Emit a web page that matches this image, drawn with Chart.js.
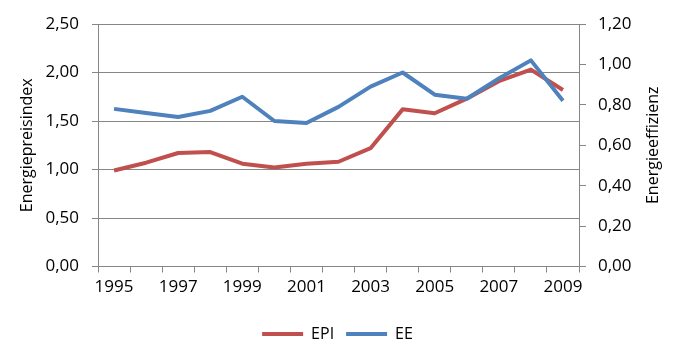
<!DOCTYPE html>
<html>
<head>
<meta charset="utf-8">
<script src="https://cdn.jsdelivr.net/npm/chart.js@4.4.0/dist/chart.umd.min.js"></script>
<style>
  html, body { margin: 0; padding: 0; background: #fff; }
  #wrap { width: 675px; height: 352px; }
</style>
</head>
<body>
<div id="wrap"><canvas id="chart" width="675" height="352"></canvas></div>
<script>
const years = ['1995','1996','1997','1998','1999','2000','2001','2002','2003','2004','2005','2006','2007','2008','2009']
const epi = [0.99, 1.07, 1.17, 1.18, 1.06, 1.02, 1.06, 1.08, 1.22, 1.62, 1.58, 1.73, 1.91, 2.03, 1.82]
const ee  = [0.78, 0.76, 0.74, 0.77, 0.84, 0.72, 0.71, 0.79, 0.89, 0.96, 0.85, 0.83, 0.93, 1.02, 0.82]
const seriesNames = ['EPI', 'EE']
const leftTitle = 'Energiepreisindex'
const rightTitle = 'Energieeffizienz'

const gray = '#868686'
const font = { family: "'Open Sans', sans-serif", size: 16 }
const tickFont = { family: "'Open Sans', sans-serif", size: 17 }
const fmt = v => Number(v).toFixed(2).replace('.', ',')

// right axis title reads bottom-to-top, chart.js would rotate it the other way
const rightTitlePlugin = {
  id: 'rightTitle',
  afterDraw(chart) {
    const { ctx, chartArea } = chart
    const s = chart.scales.y1
    ctx.save()
    ctx.font = "16px 'Open Sans', sans-serif"
    ctx.fillStyle = '#000'
    ctx.textAlign = 'center'
    ctx.textBaseline = 'middle'
    ctx.translate(s.right - 22, (chartArea.top + chartArea.bottom) / 2)
    ctx.rotate(-Math.PI / 2)
    ctx.fillText(rightTitle, 0, 0)
    ctx.restore()
  }
}

new Chart(document.getElementById('chart'), {
  type: 'line',
  data: {
    labels: years,
    datasets: [
      { label: seriesNames[0], data: epi, yAxisID: 'y', borderColor: '#C0504D', backgroundColor: '#C0504D',
        borderWidth: 4, pointRadius: 0, tension: 0, order: 2, borderJoinStyle: 'round' },
      { label: seriesNames[1], data: ee, yAxisID: 'y1', borderColor: '#4F81BD', backgroundColor: '#4F81BD',
        borderWidth: 4, pointRadius: 0, tension: 0, order: 1, borderJoinStyle: 'round' }
    ]
  },
  options: {
    responsive: false,
    animation: false,
    layout: { padding: { top: 24, left: 0, right: 0, bottom: 0 } },
    plugins: {
      tooltip: { enabled: false },
      legend: {
        position: 'bottom',
        labels: {
          font: font,
          color: '#000',
          boxWidth: 41,
          boxHeight: 4,
          padding: 12,
          sort: (a, b) => a.datasetIndex - b.datasetIndex,
          generateLabels(chart) {
            return Chart.defaults.plugins.legend.labels.generateLabels(chart)
              .map(l => Object.assign(l, { lineWidth: 0 }))
          }
        }
      }
    },
    scales: {
      x: {
        offset: true,
        grid: { offset: true, drawOnChartArea: false, color: gray, tickLength: 6 },
        border: { color: gray },
        ticks: {
          font: tickFont, color: '#000', autoSkip: false, maxRotation: 0, padding: 4,
          callback: (v, i) => (i % 2 === 0 ? years[i] : '')
        },
        afterFit: s => { s.height = 47.5 }
      },
      y: {
        position: 'left',
        min: 0, max: 2.5,
        grid: { color: gray, tickLength: 6 },
        border: { color: gray },
        ticks: { stepSize: 0.5, font: tickFont, color: '#000', padding: 13, callback: fmt },
        title: { display: true, text: leftTitle, font: font, color: '#000', padding: { top: 18, bottom: 0 } },
        afterFit: s => { s.width = 98 }
      },
      y1: {
        position: 'right',
        min: 0, max: 1.2,
        grid: { drawOnChartArea: false, color: gray, tickLength: 7 },
        border: { color: gray },
        ticks: { stepSize: 0.2, font: tickFont, color: '#000', padding: 12, callback: fmt },
        afterFit: s => { s.width = 96 }
      }
    }
  },
  plugins: [rightTitlePlugin]
})
</script>
</body>
</html>
